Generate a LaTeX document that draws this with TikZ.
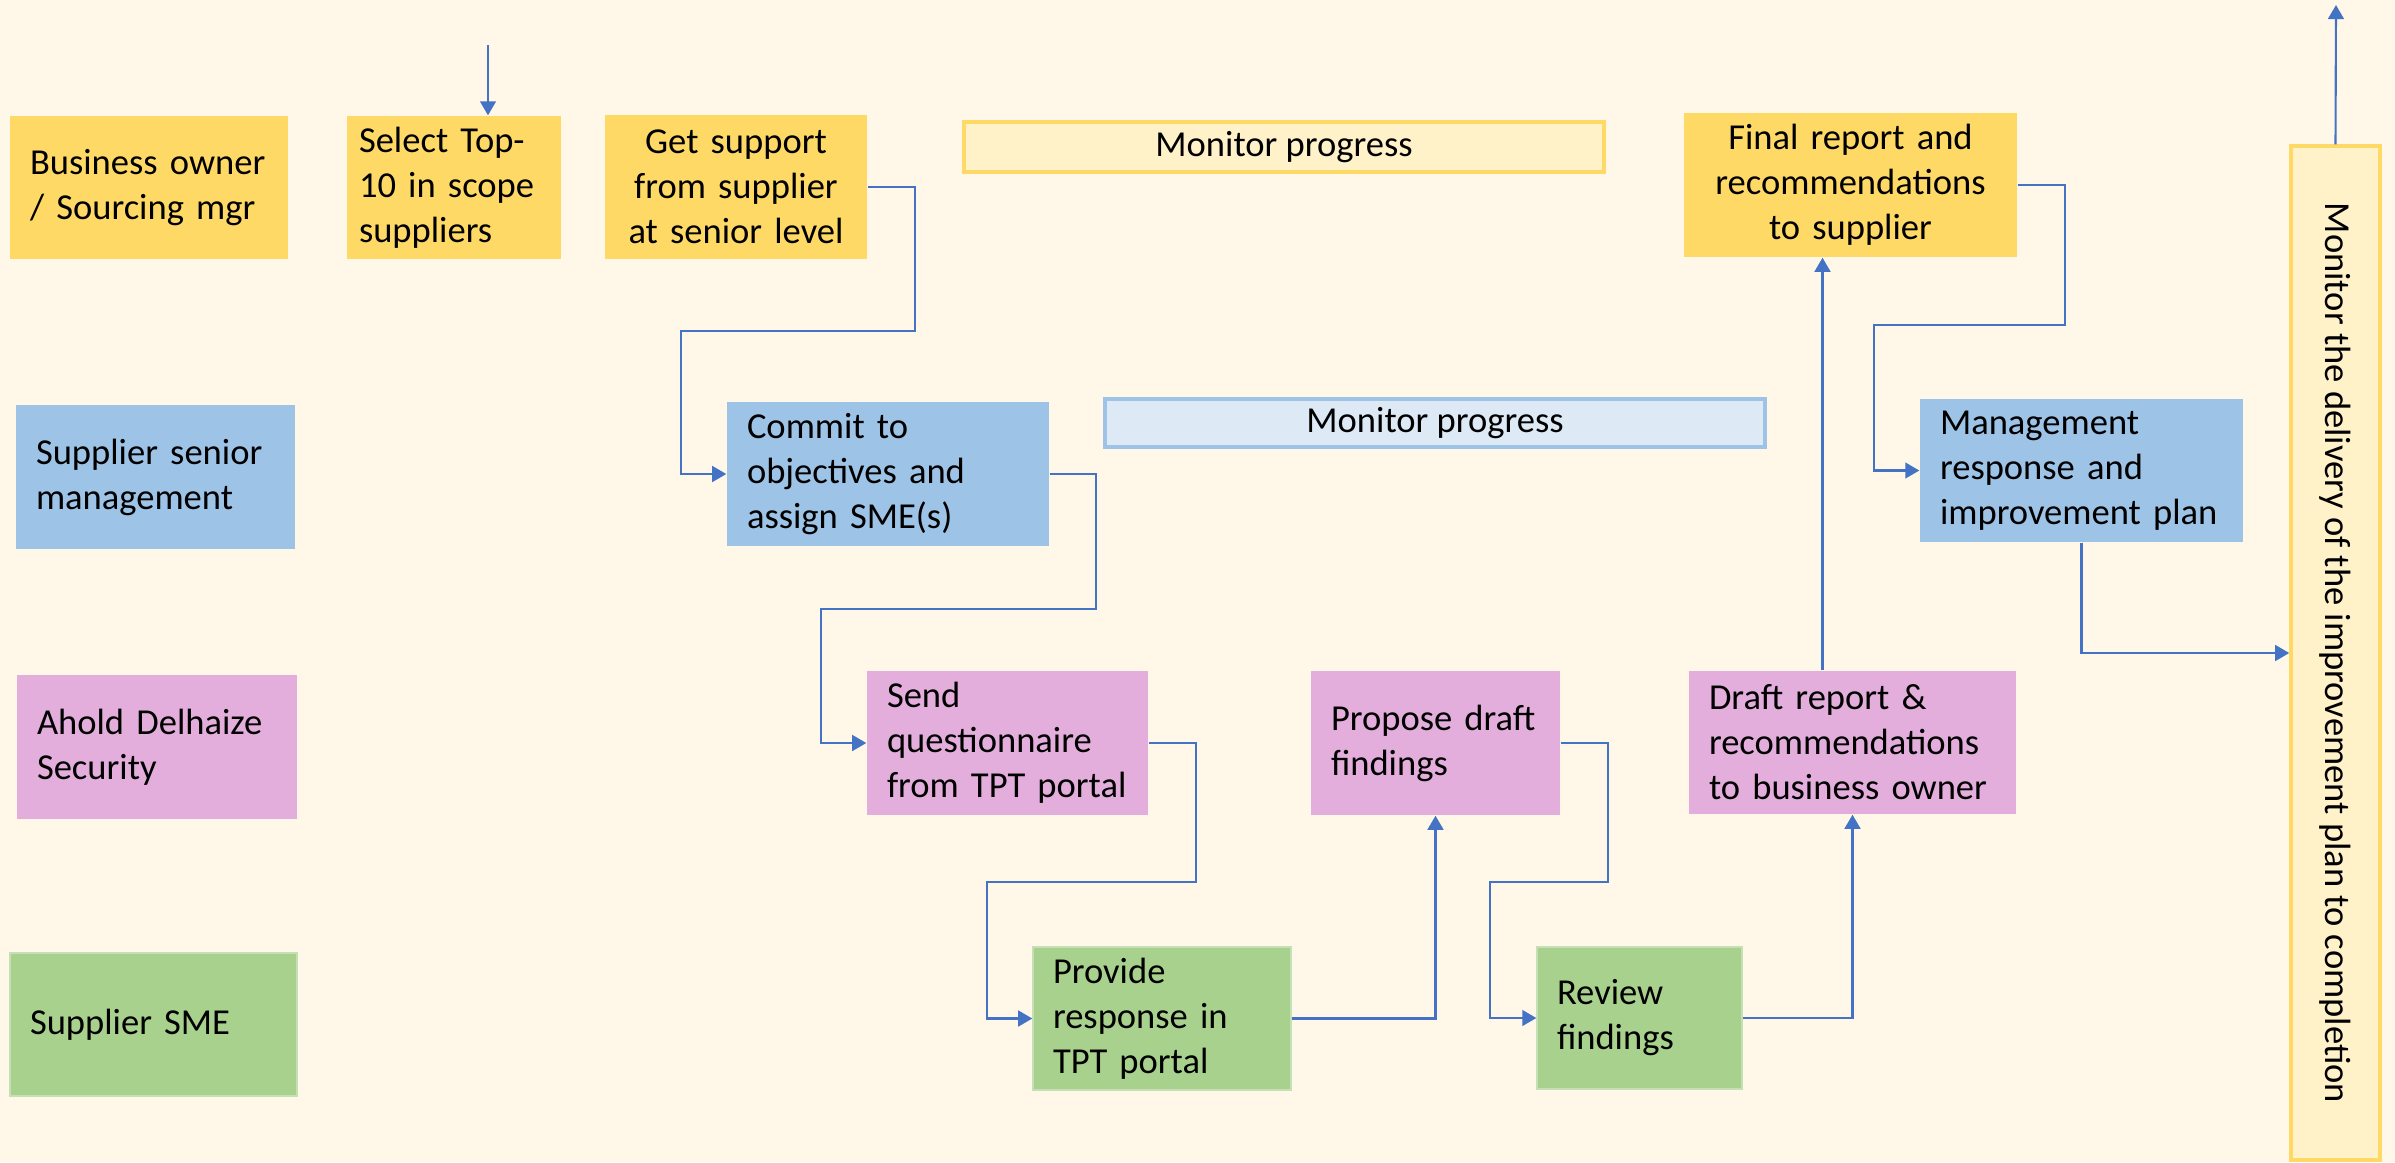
\documentclass[tikz,border=0pt]{standalone}
\usepackage{fontspec}
\setmainfont{Carlito}
\usepackage{graphicx}
\usetikzlibrary{arrows.meta}
\definecolor{cream}{HTML}{FFF7E8}
\definecolor{ownercol}{HTML}{FFD966}
\definecolor{mgmtcol}{HTML}{9DC3E6}
\definecolor{seccol}{HTML}{E3AEDC}
\definecolor{smecol}{HTML}{A9D18E}
\definecolor{smeline}{HTML}{C5E0B4}
\definecolor{flowcol}{HTML}{4472C4}
\begin{document}
\begin{tikzpicture}[x=1cm,y=1cm,
  font=\fontsize{10.4}{12.8}\selectfont,
  task/.style={inner xsep=0.2cm, inner ysep=0pt, align=left},
  flow/.style={draw=flowcol, line width=0.6pt, -{Triangle[length=4pt,width=4.5pt]}}]
\useasboundingbox (0,0) rectangle (23.95,-11.62);
\fill[cream] (0,0) rectangle (23.95,-11.62);

\node[task, fill=ownercol, text width=2.38cm, minimum height=1.43cm] (owner) at (1.49,-1.875) {Business owner\\/ Sourcing mgr};
\node[task, fill=mgmtcol, text width=2.39cm, minimum height=1.44cm] (senior) at (1.555,-4.77) {Supplier senior\\management};
\node[task, fill=seccol, text width=2.40cm, minimum height=1.44cm] (security) at (1.57,-7.47) {Ahold Delhaize\\Security};
\node[task, fill=smecol, draw=smeline, text width=2.47cm, minimum height=1.43cm] (sme) at (1.535,-10.245) {Supplier SME};

\node[task, fill=ownercol, inner xsep=0.12cm, text width=1.90cm, minimum height=1.43cm] (select) at (4.54,-1.875) {Select Top-\\10 in scope\\suppliers};
\node[task, fill=ownercol, text width=2.22cm, minimum height=1.44cm, align=center] (support) at (7.36,-1.87) {Get support\\from supplier\\at senior level};
\node[fill=ownercol!35, draw=ownercol, line width=1pt, minimum width=6.40cm, minimum height=0.50cm, inner sep=0pt] (monitorA) at (12.84,-1.47) {Monitor progress};
\node[task, fill=ownercol, text width=2.93cm, minimum height=1.44cm, align=center] (final) at (18.505,-1.85) {Final report and\\recommendations\\to supplier};

\node[task, fill=mgmtcol, text width=2.82cm, minimum height=1.44cm] (commit) at (8.88,-4.74) {Commit to\\objectives and\\assign SME(s)};
\node[fill=mgmtcol!35, draw=mgmtcol, line width=1pt, minimum width=6.60cm, minimum height=0.48cm, inner sep=0pt] (monitorB) at (14.35,-4.23) {Monitor progress};
\node[task, fill=mgmtcol, text width=2.83cm, minimum height=1.43cm] (mgmt) at (20.815,-4.705) {Management\\response and\\improvement plan};

\node[task, fill=seccol, text width=2.41cm, minimum height=1.44cm] (send) at (10.075,-7.43) {Send\\questionnaire\\from TPT portal};
\node[task, fill=seccol, text width=2.09cm, minimum height=1.44cm] (propose) at (14.355,-7.43) {Propose draft\\findings};
\node[task, fill=seccol, text width=2.87cm, minimum height=1.43cm] (draft) at (18.525,-7.425) {Draft report \&\\recommendations\\to business owner};

\node[task, fill=smecol, draw=smeline, text width=2.18cm, minimum height=1.43cm] (provide) at (11.62,-10.185) {Provide\\response in\\TPT portal};
\node[task, fill=smecol, draw=smeline, text width=1.65cm, minimum height=1.42cm] (review) at (16.395,-10.18) {Review\\findings};

\node[fill=ownercol!35, draw=ownercol, line width=1pt, minimum width=0.89cm, minimum height=10.14cm, inner sep=0pt] (delivery) at (23.355,-6.53) {\rotatebox{-90}{Monitor the delivery of the improvement plan to completion}};

\coordinate (start) at (4.88,-0.45);
\coordinate (done) at (23.36,-0.05);

\draw[flow] (start) -- (start |- select.north);
\draw[flow] (support.east) -- ++(0.47,0) |- (6.81,-3.31) |- (commit.west);
\draw[flow] (commit.east) -- ++(0.46,0) |- (8.21,-6.09) |- (send.west);
\draw[flow] (send.east) -- ++(0.47,0) |- (9.87,-8.82) |- (provide.west);
\draw[flow] (provide.east) -| (propose.south);
\draw[flow] (propose.east) -- ++(0.47,0) |- (14.90,-8.82) |- (review.west);
\draw[flow] (review.east) -| (draft.south);
\draw[flow] ([xshift=-0.3cm]draft.north) -- ([xshift=-0.3cm]draft.north |- final.south);
\draw[flow] (final.east) -- ++(0.47,0) |- (18.74,-3.25) |- (mgmt.west);
\draw[flow] (mgmt.south) |- (delivery.west);
\draw[flow] (delivery.north) -- (done);
\end{tikzpicture}
\end{document}
